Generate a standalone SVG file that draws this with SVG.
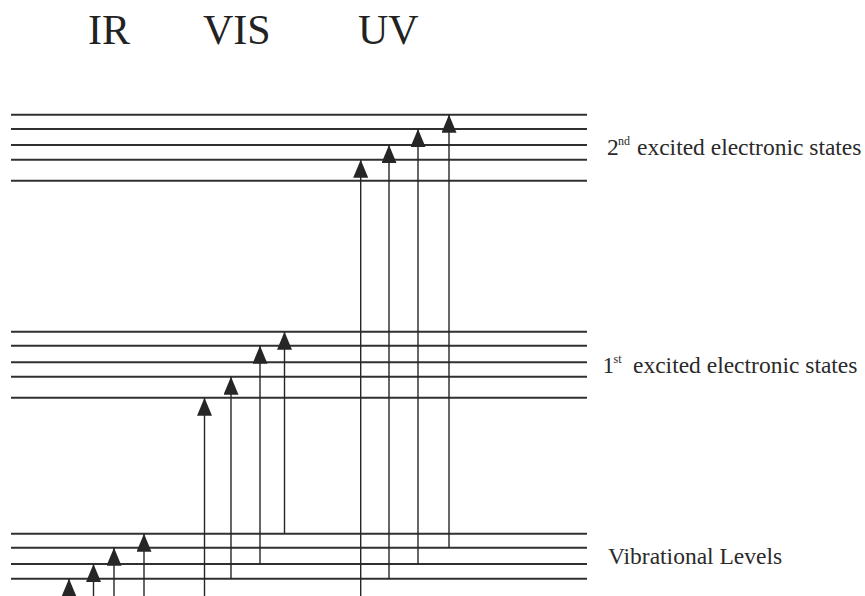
<svg xmlns="http://www.w3.org/2000/svg" width="865" height="596" viewBox="0 0 865 596">
  <style>
    .lvl { stroke: #303030; stroke-width: 2; fill: none; }
    .tr { stroke: #262626; stroke-width: 1.4; fill: none; marker-end: url(#ah); }
    text { font-family: 'Liberation Serif', 'Times New Roman', Tinos, 'Noto Serif', 'DejaVu Serif', FreeSerif, Times, serif; }
    .band { font-size: 42px; fill: #222; }
    .lbl { font-size: 23.5px; fill: #2a2a2a; }
    .sup { font-size: 12px; }
  </style>
  <defs>
    <marker id="ah" viewBox="0 0 18 15" refX="18" refY="7.5" markerWidth="18" markerHeight="15" markerUnits="userSpaceOnUse" orient="auto">
      <path d="M0,0 L18,7.5 L0,15 Z" fill="#262626"/>
    </marker>
  </defs>

  <rect width="865" height="596" fill="#fff"/>

  <!-- spectral region headings -->
  <g id="headings">
    <text class="band" x="88" y="44">IR</text>
    <text class="band" x="203" y="44">VIS</text>
    <text class="band" x="358" y="44">UV</text>
  </g>

  <!-- second excited electronic state, vibrational sublevels -->
  <g id="state-s2">
    <line class="lvl" x1="11" y1="114.7" x2="587" y2="114.7"/>
    <line class="lvl" x1="11" y1="129" x2="587" y2="129"/>
    <line class="lvl" x1="11" y1="145" x2="587" y2="145"/>
    <line class="lvl" x1="11" y1="159.7" x2="587" y2="159.7"/>
    <line class="lvl" x1="11" y1="180.7" x2="587" y2="180.7"/>
    <text class="lbl" x="607" y="155">2</text>
    <text class="lbl sup" x="618" y="145">nd</text>
    <text class="lbl" x="637" y="155">excited electronic states</text>
  </g>

  <!-- first excited electronic state, vibrational sublevels -->
  <g id="state-s1">
    <line class="lvl" x1="11" y1="331.7" x2="587" y2="331.7"/>
    <line class="lvl" x1="11" y1="345.7" x2="587" y2="345.7"/>
    <line class="lvl" x1="11" y1="362.3" x2="587" y2="362.3"/>
    <line class="lvl" x1="11" y1="376.7" x2="587" y2="376.7"/>
    <line class="lvl" x1="11" y1="397.7" x2="587" y2="397.7"/>
    <text class="lbl" x="602.5" y="373">1</text>
    <text class="lbl sup" x="613.5" y="363">st</text>
    <text class="lbl" x="633" y="373">excited electronic states</text>
  </g>

  <!-- ground electronic state, vibrational levels -->
  <g id="state-s0">
    <line class="lvl" x1="11" y1="533.7" x2="587" y2="533.7"/>
    <line class="lvl" x1="11" y1="547.7" x2="587" y2="547.7"/>
    <line class="lvl" x1="11" y1="564" x2="587" y2="564"/>
    <line class="lvl" x1="11" y1="578.7" x2="587" y2="578.7"/>
    <line class="lvl" x1="11" y1="600" x2="587" y2="600"/>
    <text class="lbl" x="608" y="564">Vibrational Levels</text>
  </g>

  <!-- absorption transitions -->
  <g id="transitions">
    <!-- IR: within the ground state -->
    <line class="tr" x1="69" y1="610" x2="69" y2="578.7"/>
    <line class="tr" x1="93.5" y1="610" x2="93.5" y2="564"/>
    <line class="tr" x1="114" y1="610" x2="114" y2="547.7"/>
    <line class="tr" x1="144" y1="610" x2="144" y2="533.7"/>
    <!-- VIS: ground to first excited -->
    <line class="tr" x1="204.5" y1="610" x2="204.5" y2="397.7"/>
    <line class="tr" x1="231" y1="578.7" x2="231" y2="376.7"/>
    <line class="tr" x1="260" y1="564" x2="260" y2="345.7"/>
    <line class="tr" x1="284.5" y1="533.7" x2="284.5" y2="331.7"/>
    <!-- UV: ground to second excited -->
    <line class="tr" x1="360.7" y1="610" x2="360.7" y2="159.7"/>
    <line class="tr" x1="389" y1="578.7" x2="389" y2="145"/>
    <line class="tr" x1="418" y1="564" x2="418" y2="129"/>
    <line class="tr" x1="449" y1="547.7" x2="449" y2="114.7"/>
  </g>
</svg>
